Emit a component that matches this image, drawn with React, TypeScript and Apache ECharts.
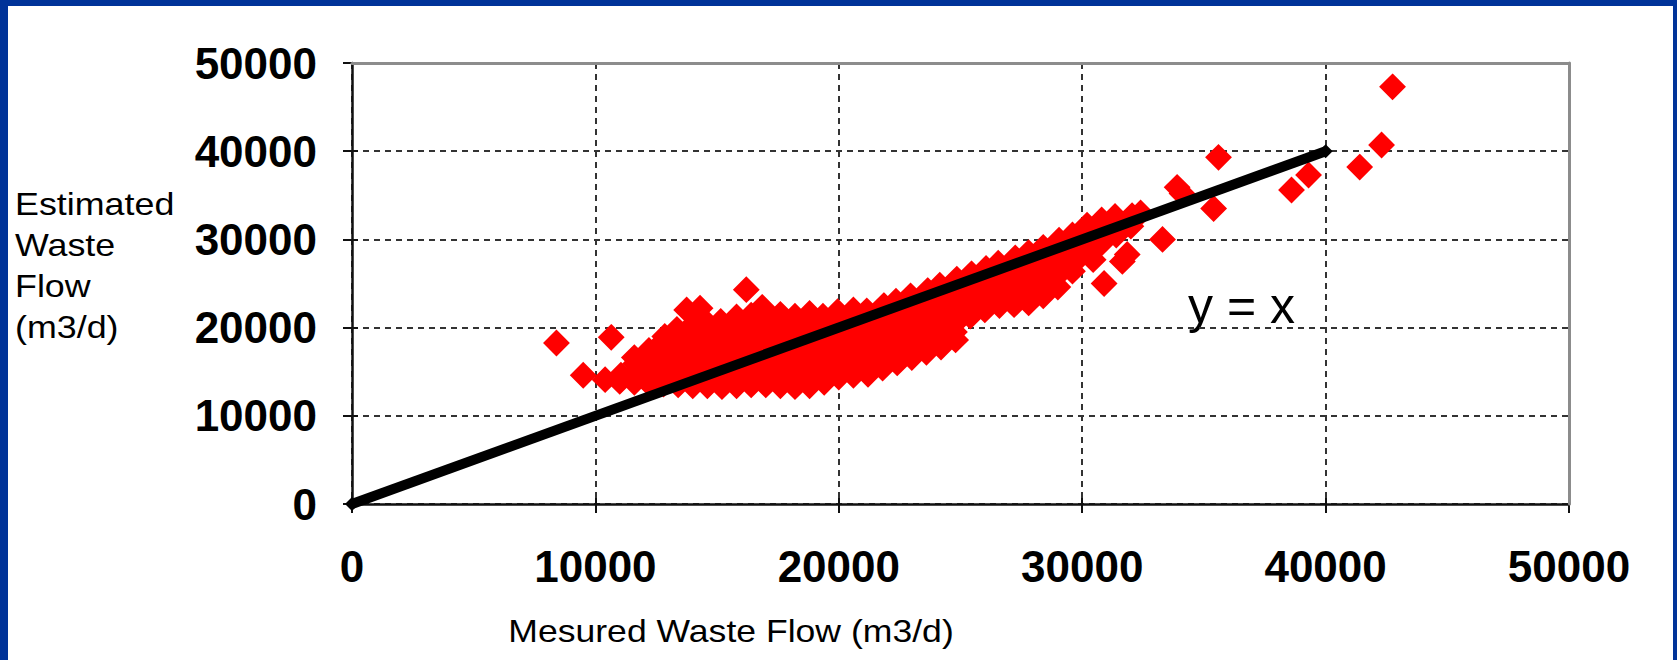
import React, { useEffect, useRef } from "react";
import * as echarts from "echarts";

// Axis ticks (m3/d)
const xTicks = [0, 10000, 20000, 30000, 40000, 50000];
const yTicks = [0, 10000, 20000, 30000, 40000, 50000];

// Dense part of the daily cloud: [measured, estimated]
const coreCloud: number[][] = [
  [10400, 14100],
  [11000, 13900], [11050, 14600],
  [11600, 13800], [11550, 14700], [11650, 15900], [11600, 16600],
  [12200, 13700], [12250, 15300], [12150, 16500], [12200, 17400],
  [12800, 13600], [12750, 14700], [12850, 15900], [12800, 17100], [12750, 18300], [12850, 19000],
  [13400, 13500], [13450, 14100], [13350, 15300], [13400, 16500], [13450, 17700], [13400, 18900], [13350, 19800],
  [14000, 13400], [14050, 14700], [13950, 15900], [14000, 17100], [14050, 18300], [13950, 19500], [14000, 20300],
  [14600, 13400], [14550, 14100], [14650, 15300], [14600, 16500], [14550, 17700], [14650, 18900], [14600, 20100], [14550, 20600],
  [15200, 13300], [15250, 14700], [15150, 15900], [15200, 17100], [15250, 18300], [15200, 19500], [15150, 20700],
  [15800, 13400], [15750, 14100], [15850, 15300], [15800, 16500], [15750, 17700], [15800, 18900], [15850, 20100], [15800, 21200],
  [16400, 13500], [16450, 14700], [16350, 15900], [16400, 17100], [16450, 18300], [16400, 19500], [16350, 20700], [16400, 21400],
  [17000, 13500], [17050, 14100], [16950, 15300], [17000, 16500], [17050, 17700], [17000, 18900], [16950, 20100], [17000, 21300],
  [17600, 13400], [17550, 14700], [17650, 15900], [17600, 17100], [17550, 18300], [17600, 19500], [17650, 20700], [17600, 21500],
  [18200, 13300], [18250, 14100], [18150, 15300], [18200, 16500], [18250, 17700], [18200, 18900], [18150, 20100], [18200, 21300],
  [18800, 13400], [18750, 14700], [18850, 15900], [18800, 17100], [18750, 18300], [18800, 19500], [18850, 20700], [18800, 21600],
  [19400, 13800], [19450, 15300], [19350, 16500], [19400, 17700], [19450, 18900], [19400, 20100], [19350, 21300],
  [20000, 14400], [20050, 15900], [19950, 17100], [20000, 18300], [20050, 19500], [20000, 20700], [19950, 21800],
];

// Part of the cloud that climbs along the diagonal
const risingCloud: number[][] = [
  [20600, 14600], [20550, 15300], [20650, 16500], [20600, 17700], [20550, 18900], [20600, 20100], [20650, 21300], [20600, 22000],
  [21200, 14700], [21250, 15900], [21150, 17100], [21200, 18300], [21250, 19500], [21200, 20700], [21150, 21900],
  [21800, 15400], [21750, 16500], [21850, 17700], [21800, 18900], [21750, 20100], [21800, 21300], [21850, 22500],
  [22400, 16000], [22450, 17100], [22350, 18300], [22400, 19500], [22450, 20700], [22400, 21900], [22350, 23000],
  [23000, 16600], [23050, 17700], [22950, 18900], [23000, 20100], [23050, 21300], [23000, 22500], [22950, 23600],
  [23600, 17200], [23550, 18300], [23650, 19500], [23600, 20700], [23550, 21900], [23600, 23100], [23650, 24200],
  [24200, 17800], [24250, 18900], [24150, 20100], [24200, 21300], [24250, 22500], [24200, 23700], [24150, 24800],
  [24800, 18600], [24750, 19500], [24850, 20700], [24800, 21900], [24750, 23100], [24800, 24300], [24850, 25500],
  [25400, 21300], [25450, 22500], [25350, 23700], [25400, 24900], [25450, 26100],
  [26000, 22000], [26050, 23100], [25950, 24300], [26000, 25500], [26050, 26700],
  [26600, 22500], [26550, 23700], [26650, 24900], [26600, 26100], [26550, 27300],
  [27200, 22600], [27250, 24300], [27150, 25500], [27200, 26700], [27250, 27900],
  [27800, 22800], [27750, 23700], [27850, 24900], [27800, 26100], [27750, 27300], [27800, 28500],
  [28400, 23600], [28450, 24300], [28350, 25500], [28400, 26700], [28450, 27900], [28400, 29100],
  [29000, 24600], [29050, 26100], [28950, 27300], [29000, 28500], [29050, 29900],
  [29600, 26400], [29650, 27900], [29550, 29100], [29600, 30500],
  [30200, 28500], [30250, 29700], [30150, 30900], [30200, 31600],
  [30800, 29600], [30750, 30300], [30850, 31500], [30800, 32200],
  [31400, 30500], [31450, 31700], [31350, 32600],
  [32000, 31500], [32050, 32700], [32400, 33000],
];

// Isolated days away from the main cloud
const lowOutliers: number[][] = [
  [8400, 18250], [9500, 14600], [10650, 18900],
  [13750, 22000], [14300, 22200], [16200, 24300], [16850, 22300],
];

const highOutliers: number[][] = [
  [29900, 28000], [30450, 27700], [30900, 25000], [31650, 27500], [31850, 28300],
  [33300, 30000], [33900, 35900], [34100, 35200], [35400, 33500], [35600, 39300],
  [38600, 35600], [39300, 37300], [41400, 38200], [42300, 40700], [42750, 47300],
];

// Reference line y = x
const identityLine: number[][] = [
  [0, 0],
  [40000, 40000],
];

const FONT = "Arial, 'Liberation Sans', sans-serif";
const BLUE = "#003399";

export default function App() {
  const ref = useRef<HTMLDivElement>(null);

  useEffect(() => {
    if (!ref.current) return;
    const chart = echarts.init(ref.current, undefined, { renderer: "svg" });

    const hidden = {
      axisLabel: { show: false },
      splitLine: { show: false },
    };
    const tickStyle = { color: "#111", width: 2 };
    const gridLine = { show: true, lineStyle: { color: "#333", width: 2, type: [6, 5] } };
    const plain = (v: number) => String(v);

    const option: any = {
      animation: false,
      backgroundColor: "#ffffff",
      grid: { left: 352, right: 108, top: 63, bottom: 156, show: false },
      xAxis: [
        {
          type: "value",
          min: xTicks[0],
          max: xTicks[xTicks.length - 1],
          interval: 10000,
          position: "bottom",
          axisLine: { show: true, onZero: false, lineStyle: { color: "#111", width: 2.5 } },
          axisTick: { show: true, length: 9, lineStyle: tickStyle },
          axisLabel: {
            margin: 40,
            fontSize: 44,
            fontWeight: "bold",
            color: "#000",
            fontFamily: FONT,
            formatter: plain,
          },
          splitLine: gridLine,
        },
        {
          type: "value",
          min: 0,
          max: 50000,
          interval: 10000,
          position: "top",
          z: 4,
          axisLine: { show: true, onZero: false, lineStyle: { color: "#8c8c8c", width: 3 } },
          axisTick: { show: false },
          ...hidden,
        },
        {
          type: "value",
          min: 0,
          max: 50000,
          interval: 10000,
          position: "bottom",
          axisLine: { show: false, onZero: false },
          axisTick: { show: true, inside: true, length: 6, lineStyle: tickStyle },
          ...hidden,
        },
      ],
      yAxis: [
        {
          type: "value",
          min: yTicks[0],
          max: yTicks[yTicks.length - 1],
          interval: 10000,
          position: "left",
          axisLine: { show: true, onZero: false, lineStyle: { color: "#111", width: 2.5 } },
          axisTick: { show: true, length: 9, lineStyle: tickStyle },
          axisLabel: {
            margin: 35,
            fontSize: 44,
            fontWeight: "bold",
            color: "#000",
            fontFamily: FONT,
            formatter: plain,
          },
          splitLine: gridLine,
        },
        {
          type: "value",
          min: 0,
          max: 50000,
          interval: 10000,
          position: "right",
          z: 4,
          axisLine: { show: true, onZero: false, lineStyle: { color: "#8c8c8c", width: 3 } },
          axisTick: { show: false },
          ...hidden,
        },
        {
          type: "value",
          min: 0,
          max: 50000,
          interval: 10000,
          position: "left",
          axisLine: { show: false, onZero: false },
          axisTick: { show: true, inside: true, length: 6, lineStyle: tickStyle },
          ...hidden,
        },
      ],
      series: [
        {
          name: "Daily flow",
          type: "scatter",
          xAxisIndex: 0,
          yAxisIndex: 0,
          symbol: "diamond",
          symbolSize: 24,
          itemStyle: { color: "#ff0000", borderColor: "#ff0000", borderWidth: 2, opacity: 1 },
          silent: true,
          z: 2,
          data: [...coreCloud, ...risingCloud, ...lowOutliers, ...highOutliers],
        },
        {
          name: "y = x",
          type: "line",
          xAxisIndex: 0,
          yAxisIndex: 0,
          symbol: "diamond",
          symbolSize: 14,
          showSymbol: true,
          itemStyle: { color: "#000" },
          lineStyle: { color: "#000", width: 10 },
          silent: true,
          z: 3,
          data: identityLine,
        },
      ],
      graphic: [
        { type: "rect", x: 0, y: 0, shape: { x: 0, y: 0, width: 1677, height: 6 }, style: { fill: BLUE } },
        { type: "rect", x: 0, y: 0, shape: { x: 0, y: 0, width: 8, height: 660 }, style: { fill: BLUE } },
        { type: "rect", x: 1673, y: 0, shape: { x: 0, y: 0, width: 4, height: 660 }, style: { fill: BLUE } },
        {
          type: "text",
          x: 15,
          y: 183,
          scaleX: 1.12,
          style: {
            text: "Estimated\nWaste\nFlow\n(m3/d)",
            font: `32px ${FONT}`,
            lineHeight: 41,
            fill: "#000",
            textAlign: "left",
            textVerticalAlign: "top",
          },
        },
        {
          type: "text",
          x: 731,
          y: 631,
          scaleX: 1.13,
          style: {
            text: "Mesured Waste Flow (m3/d)",
            font: `31.5px ${FONT}`,
            fill: "#000",
            textAlign: "center",
            textVerticalAlign: "middle",
          },
        },
        {
          type: "text",
          x: 1188,
          y: 306,
          style: {
            text: "y = x",
            font: `50px ${FONT}`,
            fill: "#000",
            textAlign: "left",
            textVerticalAlign: "middle",
          },
        },
      ],
    };

    chart.setOption(option);
    return () => chart.dispose();
  }, []);

  return (
    <div
      ref={ref}
      style={{ position: "absolute", left: 0, top: 0, width: 1677, height: 660 }}
    />
  );
}
